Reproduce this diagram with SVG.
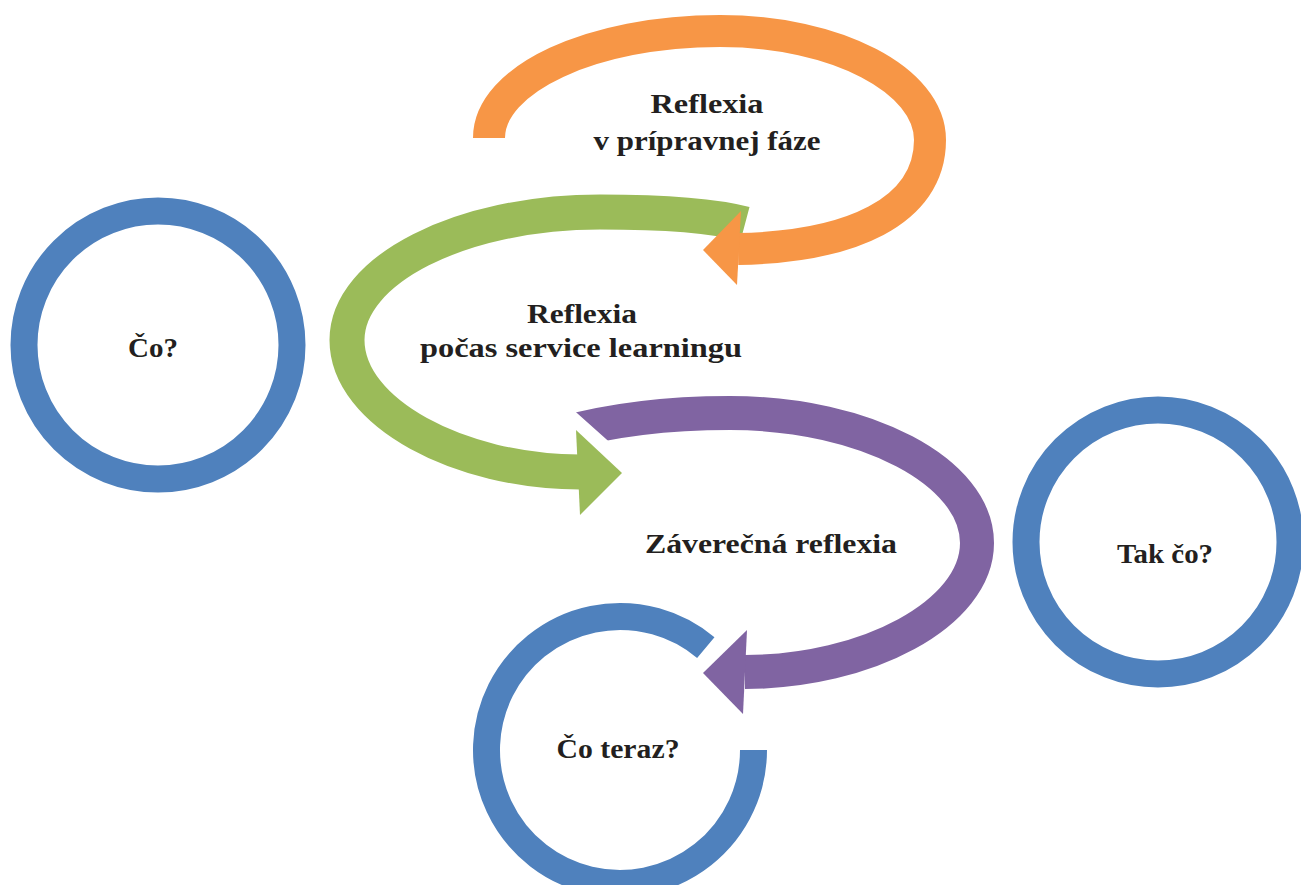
<svg xmlns="http://www.w3.org/2000/svg" width="1301" height="885" viewBox="0 0 1301 885">
<style>
.ring{fill:none;stroke:#4F81BD;stroke-width:27}
.band{fill:none;stroke-linecap:butt}
.lbl{font-family:"Liberation Serif","DejaVu Serif",serif;font-weight:bold;font-size:28px;fill:#231F20;text-anchor:middle}
</style>
<defs>
<clipPath id="purpleCut">
<polygon points="509.7,352.9 650,478.3 650,885 1301,885 1301,300 509.7,300"/>
</clipPath>
</defs>
<rect width="1301" height="885" fill="#ffffff"/>
<g id="node-co">
<circle class="ring" cx="158" cy="345" r="134"/>
<text class="lbl" x="153" y="357" textLength="50" lengthAdjust="spacingAndGlyphs">Čo?</text>
</g>
<g id="node-tak-co">
<circle class="ring" cx="1158" cy="542" r="132"/>
<text class="lbl" x="1165" y="563" textLength="96" lengthAdjust="spacingAndGlyphs">Tak čo?</text>
</g>
<g id="node-co-teraz">
<path class="ring" d="M753.5,750 A133.5,133.5 0 1 1 705.8,647.7"/>
<text class="lbl" x="618" y="758" textLength="123" lengthAdjust="spacingAndGlyphs">Čo teraz?</text>
</g>
<g id="connectors">
<g id="arrow-purple" clip-path="url(#purpleCut)">
<path class="band" stroke="#8064A2" stroke-width="34" d="M560,434 C610,420 670,413 730,413 C866,413 977,472 977,543 C977,614 866,672 745,672"/>
<polygon fill="#8064A2" points="747,630 703,673 743,714"/>
</g>
<g id="arrow-green">
<polygon fill="#9BBB59" points="576,430 622,473 580,515"/>
<path class="band" stroke="#9BBB59" stroke-width="35" d="M745,224 C715,216 665,212 600,212 C460,212 347,270 347,340 C347,413 460,472 580,472"/>
</g>
<g id="arrow-orange">
<path class="band" stroke="#F79646" stroke-width="32" d="M489,138 C489,79 592,31 720,31 C836,31 930,80 930,140 C930,212 850,247 738,249"/>
<polygon fill="#F79646" points="741,211 703,250 737,285"/>
</g>
</g>
<g id="labels">
<text class="lbl" x="707" y="113" textLength="113" lengthAdjust="spacingAndGlyphs">Reflexia</text>
<text class="lbl" x="707" y="150" textLength="227" lengthAdjust="spacingAndGlyphs">v prípravnej fáze</text>
<text class="lbl" x="582" y="323" textLength="110" lengthAdjust="spacingAndGlyphs">Reflexia</text>
<text class="lbl" x="581" y="357" textLength="322" lengthAdjust="spacingAndGlyphs">počas service learningu</text>
<text class="lbl" x="771" y="553" textLength="252" lengthAdjust="spacingAndGlyphs">Záverečná reflexia</text>
</g>
</svg>
